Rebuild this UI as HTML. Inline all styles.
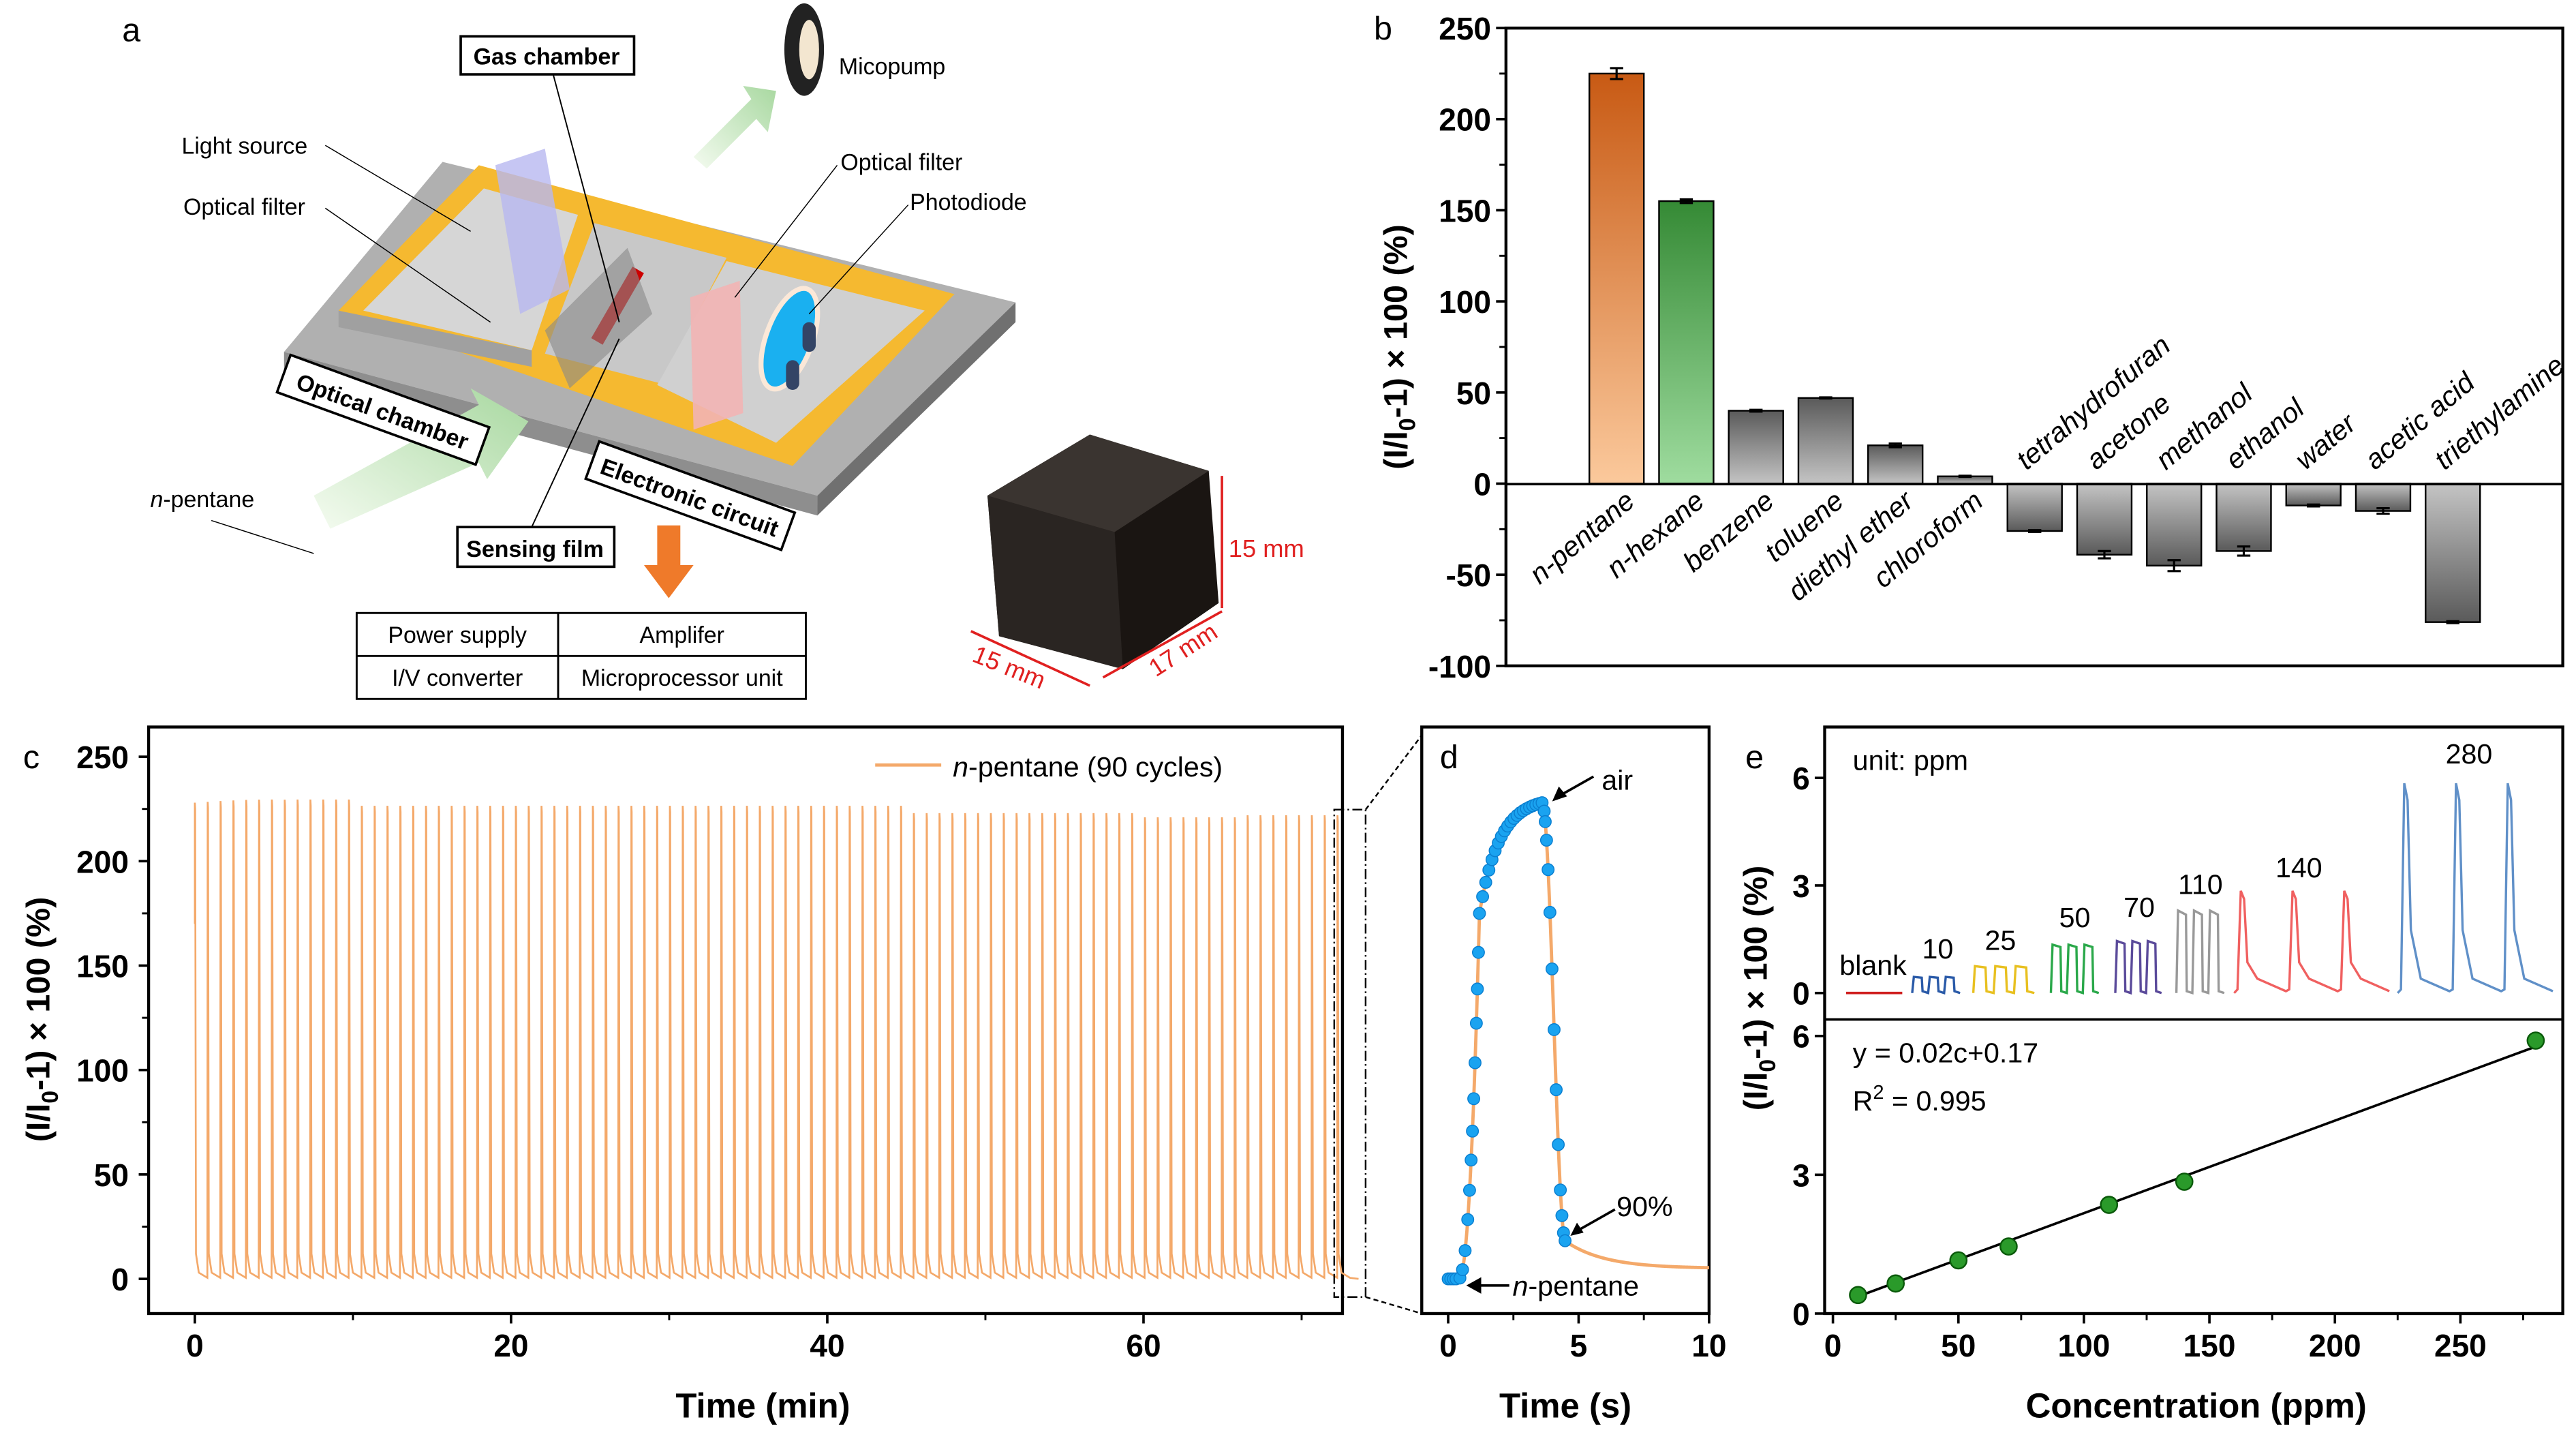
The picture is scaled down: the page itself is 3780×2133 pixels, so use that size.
<!DOCTYPE html>
<html><head><meta charset="utf-8"><style>
html,body{margin:0;padding:0;background:#fff;}
svg{display:block;}
text{font-family:"Liberation Sans",sans-serif;}
</style></head><body>
<svg id="s" width="3780" height="2133" viewBox="0 0 1560 880" preserveAspectRatio="none" xmlns="http://www.w3.org/2000/svg">
<defs>
<linearGradient id="gO" x1="0" y1="0" x2="0" y2="1"><stop offset="0" stop-color="#c85a14"/><stop offset="1" stop-color="#fbc99c"/></linearGradient>
<linearGradient id="gG" x1="0" y1="0" x2="0" y2="1"><stop offset="0" stop-color="#358a35"/><stop offset="1" stop-color="#9fdc9f"/></linearGradient>
<linearGradient id="gP" x1="0" y1="0" x2="0" y2="1"><stop offset="0" stop-color="#5a5a5a"/><stop offset="1" stop-color="#c4c4c4"/></linearGradient>
<linearGradient id="gN" x1="0" y1="0" x2="0" y2="1"><stop offset="0" stop-color="#c4c4c4"/><stop offset="1" stop-color="#5a5a5a"/></linearGradient>
<linearGradient id="gA" x1="0" y1="1" x2="1" y2="0"><stop offset="0" stop-color="#f4fbf0"/><stop offset="1" stop-color="#a8d8a0"/></linearGradient>
</defs>

<!-- ===== Panel a ===== -->
<text x="74" y="25" font-size="20">a</text>
<polygon points="172,213 268,98 615,183 495,300" fill="#b0b0b0"/>
<polygon points="172,213 495,300 495,312 172,225" fill="#8e8e8e"/>
<polygon points="495,300 615,183 615,195 495,312" fill="#707070"/>
<polygon points="205,188 290,100 578,178 480,282" fill="#f5b930"/>
<polygon points="220,188 293,114 350,130 322,212" fill="#d6d6d6"/>
<polygon points="330,214 360,135 440,156 400,232" fill="#c8c8c8"/>
<polygon points="398,233 440,158 560,188 470,268" fill="#d0d0d0"/>
<polygon points="205,188 322,212 322,222 205,198" fill="#a0a0a0"/>
<polygon points="300,100 330,90 345,175 315,190" fill="#b8b8f0" opacity="0.8"/>
<polygon points="418,180 448,170 450,250 420,260" fill="#f2b4b4" opacity="0.9"/>
<rect x="370" y="160" width="8" height="50" fill="#c00" transform="rotate(30 374 185)"/>
<ellipse cx="478" cy="205" rx="14" ry="32" fill="#1ab0f0" stroke="#fbe8d8" stroke-width="3" transform="rotate(20 478 205)"/>
<rect x="486" y="195" width="8" height="18" rx="4" fill="#334466"/>
<rect x="476" y="218" width="8" height="18" rx="4" fill="#334466"/>
<polygon points="330,200 380,150 395,190 345,235" fill="#888" opacity="0.6"/>
<polygon points="190,300 290,245 285,235 320,255 295,290 290,280 200,320" fill="url(#gA)"/>
<polygon points="420,95 455,60 450,52 470,55 465,80 458,72 428,102" fill="url(#gA)"/>
<ellipse cx="487" cy="30" rx="12" ry="28" fill="#222"/>
<ellipse cx="490" cy="30" rx="6" ry="18" fill="#f3e6d0"/>
<polygon points="398,318 412,318 412,342 420,342 405,362 390,342 398,342" fill="#ef7a2a"/>
<rect x="279" y="22" width="105" height="23" fill="#fff" stroke="#000" stroke-width="1.5"/>
<text x="331" y="39" font-size="14" font-weight="bold" text-anchor="middle">Gas chamber</text>
<line x1="335" y1="45" x2="375" y2="195" stroke="#000" stroke-width="0.8"/>
<text x="508" y="45" font-size="14">Micopump</text>
<text x="110" y="93" font-size="14">Light source</text>
<text x="111" y="130" font-size="14">Optical filter</text>
<line x1="197" y1="88" x2="285" y2="140" stroke="#000" stroke-width="0.6"/>
<line x1="197" y1="126" x2="297" y2="195" stroke="#000" stroke-width="0.6"/>
<text x="509" y="103" font-size="14">Optical filter</text>
<text x="551" y="127" font-size="14">Photodiode</text>
<line x1="507" y1="100" x2="445" y2="180" stroke="#000" stroke-width="0.6"/>
<line x1="550" y1="124" x2="490" y2="190" stroke="#000" stroke-width="0.6"/>
<g transform="rotate(20 232 248)"><rect x="168" y="236" width="128" height="24" fill="#fff" stroke="#000" stroke-width="1.5"/><text x="232" y="254" font-size="14" font-weight="bold" text-anchor="middle">Optical chamber</text></g>
<g transform="rotate(20 418 300)"><rect x="355" y="288" width="126" height="24" fill="#fff" stroke="#000" stroke-width="1.5"/><text x="418" y="306" font-size="14" font-weight="bold" text-anchor="middle">Electronic circuit</text></g>
<rect x="277" y="319" width="95" height="24" fill="#fff" stroke="#000" stroke-width="1.5"/>
<text x="324" y="337" font-size="14" font-weight="bold" text-anchor="middle">Sensing film</text>
<line x1="322" y1="319" x2="375" y2="205" stroke="#000" stroke-width="0.8"/>
<text x="91" y="307" font-size="14"><tspan font-style="italic">n</tspan>-pentane</text>
<line x1="128" y1="315" x2="190" y2="335" stroke="#000" stroke-width="0.6"/>
<rect x="216" y="371" width="272" height="52" fill="#fff" stroke="#000" stroke-width="1.2"/>
<line x1="338" y1="371" x2="338" y2="423" stroke="#000" stroke-width="1.2"/>
<line x1="216" y1="397" x2="488" y2="397" stroke="#000" stroke-width="1.2"/>
<text x="277" y="389" font-size="14" text-anchor="middle">Power supply</text>
<text x="413" y="389" font-size="14" text-anchor="middle">Amplifer</text>
<text x="277" y="415" font-size="14" text-anchor="middle">I/V converter</text>
<text x="413" y="415" font-size="14" text-anchor="middle">Microprocessor unit</text>
<polygon points="598,300 660,263 732,285 738,365 680,405 605,385" fill="#1a1512"/>
<polygon points="598,300 675,322 680,405 605,385" fill="#2a2522"/>
<polygon points="598,300 660,263 732,285 675,322" fill="#3a3430"/>
<line x1="740" y1="288" x2="740" y2="368" stroke="#e02020" stroke-width="1.5"/>
<text x="744" y="337" font-size="15" fill="#e02020">15 mm</text>
<line x1="588" y1="382" x2="660" y2="415" stroke="#e02020" stroke-width="1.5"/>
<line x1="668" y1="410" x2="740" y2="370" stroke="#e02020" stroke-width="1.5"/>
<text x="588" y="400" font-size="15" fill="#e02020" transform="rotate(22 588 400)">15 mm</text>
<text x="700" y="410" font-size="15" fill="#e02020" transform="rotate(-33 700 410)">17 mm</text>

<!-- ===== Panel b ===== -->
<text x="832" y="24" font-size="20">b</text>
<g id="b"></g>
<rect x="912" y="17" width="640" height="386" fill="none" stroke="#000" stroke-width="1.8"/>
<line x1="912" y1="293" x2="1552" y2="293" stroke="#000" stroke-width="1.5"/>
<text transform="translate(852 210) rotate(-90)" font-size="20" font-weight="bold" text-anchor="middle">(I/I<tspan font-size="14" dy="5">0</tspan><tspan dy="-5">-1) × 100 (%)</tspan></text>

<!-- ===== Panel c ===== -->
<text x="14" y="465" font-size="20">c</text>
<rect x="90" y="440" width="723" height="355" fill="none" stroke="#000" stroke-width="1.8"/>
<g id="c"></g>
<line x1="530" y1="463" x2="570" y2="463" stroke="#f4a96a" stroke-width="2"/>
<text x="577" y="470" font-size="17"><tspan font-style="italic">n</tspan>-pentane (90 cycles)</text>
<rect x="808" y="490" width="19" height="295" fill="none" stroke="#000" stroke-width="1" stroke-dasharray="6,2,1,2"/>
<line x1="827" y1="490" x2="861" y2="445" stroke="#000" stroke-width="1" stroke-dasharray="3,2"/>
<line x1="827" y1="785" x2="861" y2="795" stroke="#000" stroke-width="1" stroke-dasharray="3,2"/>
<text transform="translate(30 617) rotate(-90)" font-size="20" font-weight="bold" text-anchor="middle">(I/I<tspan font-size="14" dy="5">0</tspan><tspan dy="-5">-1) × 100 (%)</tspan></text>
<text x="462" y="858" font-size="21" font-weight="bold" text-anchor="middle">Time (min)</text>

<!-- ===== Panel d ===== -->
<text x="872" y="465" font-size="20">d</text>
<rect x="861" y="440" width="174" height="355" fill="none" stroke="#000" stroke-width="1.8"/>
<g id="d"></g>
<text x="970" y="478" font-size="17">air</text>
<line x1="965" y1="470" x2="942" y2="483" stroke="#000" stroke-width="1.5"/>
<polygon points="940,485 944,476 949,482" fill="#000"/>
<text x="979" y="736" font-size="17">90%</text>
<line x1="978" y1="732" x2="955" y2="745" stroke="#000" stroke-width="1.5"/>
<polygon points="951,748 955,740 959,746" fill="#000"/>
<text x="916" y="784" font-size="17"><tspan font-style="italic">n</tspan>-pentane</text>
<line x1="914" y1="778" x2="893" y2="778" stroke="#000" stroke-width="1.5"/>
<polygon points="888,778 897,773 897,783" fill="#000"/>
<text x="948" y="858" font-size="21" font-weight="bold" text-anchor="middle">Time (s)</text>

<!-- ===== Panel e ===== -->
<text x="1057" y="465" font-size="20">e</text>
<rect x="1105" y="440" width="447" height="355" fill="none" stroke="#000" stroke-width="1.8"/>
<line x1="1105" y1="617" x2="1552" y2="617" stroke="#000" stroke-width="1.5"/>
<g id="e"></g>
<text x="1122" y="466" font-size="17">unit: ppm</text>
<text x="1122" y="643" font-size="17">y = 0.02c+0.17</text>
<text x="1122" y="672" font-size="17">R<tspan font-size="12" dy="-7">2</tspan><tspan dy="7"> = 0.995</tspan></text>
<text transform="translate(1070 598) rotate(-90)" font-size="20" font-weight="bold" text-anchor="middle">(I/I<tspan font-size="14" dy="5">0</tspan><tspan dy="-5">-1) × 100 (%)</tspan></text>
<text x="1330" y="858" font-size="21" font-weight="bold" text-anchor="middle">Concentration (ppm)</text>
</svg>
<script>
var NS="http://www.w3.org/2000/svg";
function el(g,t,a,txt){var e=document.createElementNS(NS,t);for(var k in a)e.setAttribute(k,a[k]);if(txt!==undefined)e.textContent=txt;document.getElementById(g).appendChild(e);return e;}
var yb=function(v){return 292.7-v*1.103;};
[250,200,150,100,50,0,-50,-100].forEach(function(v){var y=yb(v);el("b","line",{x1:912,y1:y,x2:906,y2:y,stroke:"#000","stroke-width":1.5});el("b","text",{x:903,y:y+7,"font-size":19,"font-weight":"bold","text-anchor":"end"},v);});
[225,175,125,75,25,-25,-75].forEach(function(v){var y=yb(v);el("b","line",{x1:912,y1:y,x2:908,y2:y,stroke:"#000","stroke-width":1.2});});
var names=["n-pentane","n-hexane","benzene","toluene","diethyl ether","chloroform","tetrahydrofuran","acetone","methanol","ethanol","water","acetic acid","triethylamine"];
var vals=[225,155,40,47,21,4,-26,-39,-45,-37,-12,-15,-76];
var errs=[3,1,0.5,0.3,1,0.3,0.5,2,3,2.5,0.5,1.5,0.5];
vals.forEach(function(v,i){var cx=979+i*42.2,w=33;var f=i==0?"url(#gO)":i==1?"url(#gG)":(v>0?"url(#gP)":"url(#gN)");
var y0=yb(0),y1=yb(v);el("b","rect",{x:cx-w/2,y:Math.min(y0,y1),width:w,height:Math.abs(y1-y0),fill:f,stroke:"#000","stroke-width":1});
var e=errs[i];el("b","path",{d:"M"+cx+" "+yb(v-e)+"V"+yb(v+e)+"M"+(cx-4)+" "+yb(v-e)+"h8M"+(cx-4)+" "+yb(v+e)+"h8",stroke:"#000","stroke-width":1.3,fill:"none"});
if(v>0){el("b","text",{x:cx+12,y:305,"font-size":17,"font-style":"italic","text-anchor":"end",transform:"rotate(-40 "+(cx+12)+" 305)"},names[i]);}
else{el("b","text",{x:cx-5,y:285,"font-size":17,"font-style":"italic",transform:"rotate(-40 "+(cx-5)+" 285)"},names[i]);}
});
var yc=function(v){return 774-v*1.264;};var xc=function(t){return 118+t*9.575;};
[0,50,100,150,200,250].forEach(function(v){var y=yc(v);el("c","line",{x1:90,y1:y,x2:84,y2:y,stroke:"#000","stroke-width":1.5});el("c","text",{x:78,y:y+7,"font-size":19,"font-weight":"bold","text-anchor":"end"},v);});
[25,75,125,175,225].forEach(function(v){el("c","line",{x1:90,y1:yc(v),x2:86,y2:yc(v),stroke:"#000","stroke-width":1.2});});
[0,20,40,60].forEach(function(t){var x=xc(t);el("c","line",{x1:x,y1:795,x2:x,y2:801,stroke:"#000","stroke-width":1.5});el("c","text",{x:x,y:821,"font-size":19,"font-weight":"bold","text-anchor":"middle"},t);});
[10,30,50,70].forEach(function(t){el("c","line",{x1:xc(t),y1:795,x2:xc(t),y2:799,stroke:"#000","stroke-width":1.2});});
var d="M"+xc(0)+" "+yc(170)+" ";var P=0.812;
for(var i=0;i<90;i++){var t0=i*P;var tm=t0;
 var pk = tm<10 ? 228+1.5*Math.sin(tm/3) : tm<45 ? 226.5 : tm<60 ? 223 : tm<66 ? 221 : 222;
 if(tm>6&&tm<10)pk=229.5;
 d+="L"+xc(t0).toFixed(2)+" "+yc(pk).toFixed(2)+" L"+xc(t0+0.02).toFixed(2)+" "+yc(pk-3).toFixed(2)+" L"+xc(t0+0.07).toFixed(2)+" "+yc(12).toFixed(2)+" L"+xc(t0+0.25).toFixed(2)+" "+yc(3).toFixed(2)+" L"+xc(t0+P-0.02).toFixed(2)+" "+yc(0.5).toFixed(2)+" ";}
d+="L"+xc(73.6)+" "+yc(0);
el("c","path",{d:d,fill:"none",stroke:"#f4a96a","stroke-width":1.1});
var xd=function(t){return 877+t*15.8;};
[0,5,10].forEach(function(t){var x=xd(t);el("d","line",{x1:x,y1:795,x2:x,y2:801,stroke:"#000","stroke-width":1.5});el("d","text",{x:x,y:821,"font-size":19,"font-weight":"bold","text-anchor":"middle"},t);});
[2.5,7.5].forEach(function(t){el("d","line",{x1:xd(t),y1:795,x2:xd(t),y2:799,stroke:"#000","stroke-width":1.2});});
function fd(t){if(t<0.4)return 0;if(t<1.2){var u=(t-0.4)/0.8;return 175*Math.pow(u,2.2);}if(t<3.6){return 175+53*(1-Math.exp(-(t-1.2)*1.3))/(1-Math.exp(-2.4*1.3));}
 if(t<4.5){var u=(t-3.6)/0.9;return 228-210*(0.5-0.5*Math.cos(Math.PI*u));}return 5+13*Math.exp(-(t-4.5)/1.5);}
var pd="";for(var t=0;t<=10;t+=0.02){pd+=(t==0?"M":"L")+xd(t).toFixed(2)+" "+yc(fd(t)).toFixed(2)+" ";}
el("d","path",{d:pd,fill:"none",stroke:"#f4a96a","stroke-width":2});
var pts=[0,0.1,0.2,0.3,0.45,0.55,0.65,0.75,0.82,0.88,0.93,0.98,1.03,1.08,1.12,1.16];
for(var t=1.2;t<3.65;t+=0.12)pts.push(t);
[3.68,3.72,3.77,3.83,3.9,3.98,4.06,4.14,4.22,4.3,4.36,4.42,4.48].forEach(function(t){pts.push(t);});
pts.forEach(function(t){el("d","circle",{cx:xd(t),cy:yc(fd(t)),r:3.6,fill:"#1aa3f0",stroke:"#0b7fd0","stroke-width":0.6});});
var ye1=function(v){return 601-v*21.7;},ye2=function(v){return 795-v*28;},xe=function(c){return 1110+c*1.52;};
[0,3,6].forEach(function(v){el("e","line",{x1:1105,y1:ye1(v),x2:1099,y2:ye1(v),stroke:"#000","stroke-width":1.5});el("e","text",{x:1096,y:ye1(v)+7,"font-size":19,"font-weight":"bold","text-anchor":"end"},v);
 el("e","line",{x1:1105,y1:ye2(v),x2:1099,y2:ye2(v),stroke:"#000","stroke-width":1.5});el("e","text",{x:1096,y:ye2(v)+7,"font-size":19,"font-weight":"bold","text-anchor":"end"},v);});
[0,50,100,150,200,250].forEach(function(c){var x=xe(c);el("e","line",{x1:x,y1:795,x2:x,y2:801,stroke:"#000","stroke-width":1.5});el("e","text",{x:x,y:821,"font-size":19,"font-weight":"bold","text-anchor":"middle"},c);});
[25,75,125,175,225,275].forEach(function(c){el("e","line",{x1:xe(c),y1:795,x2:xe(c),y2:799,stroke:"#000","stroke-width":1.2});});
el("e","line",{x1:xe(10),y1:ye2(0.37),x2:xe(280),y2:ye2(5.77),stroke:"#000","stroke-width":1.5});
[[10,0.4],[25,0.65],[50,1.15],[70,1.45],[110,2.35],[140,2.85],[280,5.9]].forEach(function(p){el("e","circle",{cx:xe(p[0]),cy:ye2(p[1]),r:5,fill:"#2a9a2a",stroke:"#0a5a0a","stroke-width":1});});
function sq(x0,x1,h,col,n){var w=(x1-x0)/n,d="M"+x0+" "+ye1(0);for(var i=0;i<n;i++){var a=x0+i*w;d+="L"+(a+1)+" "+ye1(h)+" L"+(a+w*0.6)+" "+ye1(h*0.95)+" L"+(a+w*0.65)+" "+ye1(0.05)+" L"+(a+w)+" "+ye1(0);}el("e","path",{d:d,fill:"none",stroke:col,"stroke-width":1.4});}
function sp(x0,x1,h,col,n){var w=(x1-x0)/n,d="M"+x0+" "+ye1(0);for(var i=0;i<n;i++){var a=x0+i*w;d+="L"+(a+2)+" "+ye1(0.1)+" L"+(a+4)+" "+ye1(h)+" L"+(a+6)+" "+ye1(h*0.92)+" L"+(a+8)+" "+ye1(h*0.3)+" L"+(a+14)+" "+ye1(0.4)+" L"+(a+w)+" "+ye1(0.05);}el("e","path",{d:d,fill:"none",stroke:col,"stroke-width":1.4});}
el("e","path",{d:"M1118 "+ye1(0)+"H1152",stroke:"#d02020","stroke-width":1.5});
sq(1158,1187,0.45,"#2a5aa8",3);sq(1195,1232,0.75,"#e8c020",3);sq(1242,1271,1.35,"#2aa84a",3);sq(1281,1309,1.45,"#5a4a9a",3);sq(1318,1347,2.3,"#999",3);
sp(1353,1447,2.85,"#f06060",3);sp(1452,1546,5.85,"#6090c8",3);
[["blank",1114,590],["10",1164,580],["25",1202,575],["50",1247,561],["70",1286,555],["110",1319,541],["140",1378,531],["280",1481,462]].forEach(function(l){el("e","text",{x:l[1],y:l[2],"font-size":17},l[0]);});
</script>
</body></html>
